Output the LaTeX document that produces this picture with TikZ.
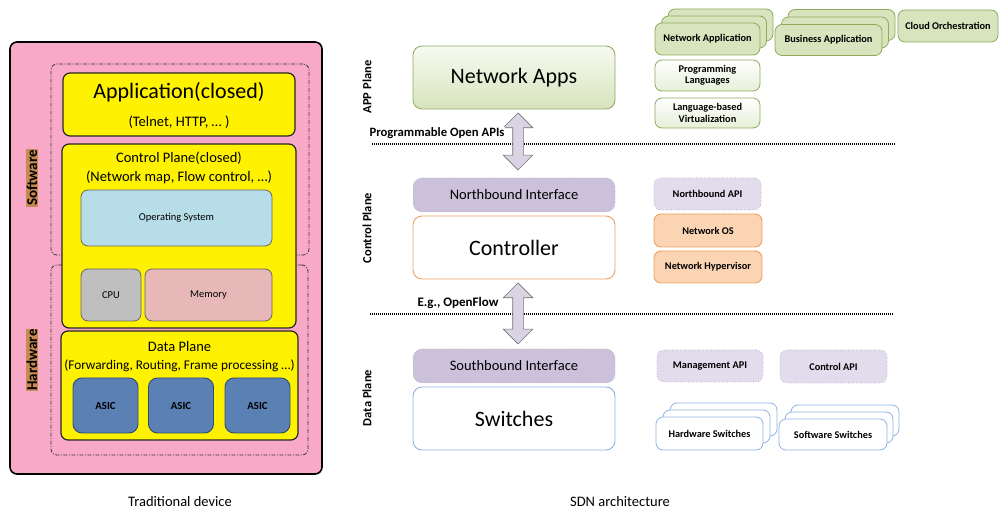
\documentclass[tikz,border=0pt]{standalone}
\usepackage{fontspec}
\setmainfont{Carlito}
\usetikzlibrary{shapes.arrows}
\definecolor{pinkbg}{HTML}{F9A9C8}
\definecolor{yel}{HTML}{FFF200}
\definecolor{osblue}{HTML}{B7DEE8}
\definecolor{cpugray}{HTML}{BFBFBF}
\definecolor{memrose}{HTML}{E6B9B8}
\definecolor{asicblue}{HTML}{5A80B4}
\definecolor{asicedge}{HTML}{2E4B73}
\definecolor{grfill}{HTML}{D7E4BD}
\definecolor{gredge}{HTML}{8EAA5C}
\definecolor{purp}{HTML}{CCC1DA}
\definecolor{purplt}{HTML}{E2DCEC}
\definecolor{purpedge}{HTML}{A99BBD}
\definecolor{orfill}{HTML}{FBD4B4}
\definecolor{oredge}{HTML}{F0A060}
\definecolor{swedge}{HTML}{8DB3E2}
\definecolor{lblbrown}{HTML}{C68A52}
\definecolor{arrfill}{HTML}{D9D3E3}
\tikzset{
  rbox/.style={rounded corners=7pt, inner sep=0pt, align=center, font=\fontsize{10.3}{11.5}\selectfont\bfseries},
  yelbox/.style={rbox, draw=black!85, line width=1.2pt, fill=yel},
  dashdotbox/.style={rounded corners=6pt, draw=black!80, line width=0.8pt, dash pattern=on 4pt off 1.5pt on 1pt off 1.5pt},
  inner/.style={rbox, draw=black!60, line width=0.8pt, font=\fontsize{10.5}{12}\selectfont},
  greenbox/.style={rbox, draw=gredge, line width=0.8pt, fill=grfill},
  greenwhite/.style={rbox, draw=gredge, line width=0.8pt, top color=white, bottom color=grfill!60},
  apibox/.style={rbox, draw=purpedge, line width=0.6pt, dotted, fill=purplt},
  orbox/.style={rbox, draw=oredge, line width=0.9pt, fill=orfill},
  swbox/.style={rbox, draw=swedge, line width=0.8pt, fill=white},
  bigbox/.style={rounded corners=9pt, inner sep=0pt, align=center, font=\fontsize{22}{26}\selectfont},
  iface/.style={rounded corners=9pt, inner sep=0pt, fill=purp, draw=purp!80!black, dotted, line width=0.5pt, font=\fontsize{14.5}{16}\selectfont},
  planelbl/.style={rotate=90, font=\fontsize{12.5}{14}\selectfont\bfseries},
  sidelbl/.style={rotate=90, fill=lblbrown, inner sep=0.6pt, font=\fontsize{15}{16}\selectfont\bfseries},
  asicbox/.style={rbox, draw=asicedge, line width=0.9pt, fill=asicblue, rounded corners=9pt, minimum width=65pt, minimum height=55pt, font=\fontsize{10.8}{12}\selectfont\bfseries},
  fatarrow/.style={double arrow, draw=black!55, fill=arrfill, line width=0.7pt, rotate=90, inner sep=5pt, double arrow head extend=9.5pt},
  dotline/.style={line width=1.4pt, dash pattern=on 1.1pt off 0.9pt},
  midtxt/.style={font=\fontsize{14.5}{16}\selectfont},
  caption/.style={font=\fontsize{14.5}{16}\selectfont}
}
\begin{document}
\begin{tikzpicture}[x=1pt,y=-1pt]
\useasboundingbox (0,0) rectangle (1002,510);
% ---------- Traditional device ----------
\node[draw=black, line width=1.6pt, fill=pinkbg, rounded corners=7pt, minimum width=312pt, minimum height=432pt, inner sep=0pt] (dev) at (166,258) {};
\node[dashdotbox, minimum width=258pt, minimum height=191pt] (swzone) at (180,159.5) {};
\node[dashdotbox, minimum width=257pt, minimum height=190pt] (hwzone) at (179.5,360) {};
\node[yelbox, minimum width=232pt, minimum height=63pt] (app) at (179,104.5) {};
\node[font=\fontsize{22}{26}\selectfont] (apptxt) at (179,92) {Application(closed)};
\node[midtxt] (appsub) at (179,122.5) {(Telnet, HTTP, \dots\ )};
\node[yelbox, minimum width=234pt, minimum height=184pt] (cp) at (179,236) {};
\node[midtxt] (cptxt) at (179,158) {Control Plane(closed)};
\node[midtxt] (cpsub) at (179,177) {(Network map, Flow control, \dots)};
\node[inner, fill=osblue, minimum width=191pt, minimum height=56pt] (os) at (176.5,218) {Operating System};
\node[inner, fill=cpugray, minimum width=60pt, minimum height=52pt] (cpu) at (111,295) {CPU};
\node[inner, fill=memrose, minimum width=127pt, minimum height=52pt] (mem) at (208.5,295) {Memory};
\node[yelbox, minimum width=237pt, minimum height=109pt] (dp) at (179.5,385.5) {};
\node[midtxt] (dptxt) at (179.5,347) {Data Plane};
\node[font=\fontsize{13.3}{15}\selectfont] (dpsub) at (179.5,366) {(Forwarding, Routing, Frame processing \dots)};
\node[asicbox] (asic1) at (105.5,405.5) {ASIC};
\node[asicbox] (asic2) at (181,405.5) {ASIC};
\node[asicbox] (asic3) at (257.5,405.5) {ASIC};
\node[sidelbl] (swlbl) at (32,178) {Software};
\node[sidelbl] (hwlbl) at (32,360) {Hardware};
\node[caption] (cap1) at (180,502) {Traditional device};
% ---------- SDN architecture ----------
\node[planelbl] (applane) at (367,87) {APP Plane};
\node[planelbl] (ctlplane) at (367,228) {Control Plane};
\node[planelbl] (dataplane) at (367,398) {Data Plane};
\node[bigbox, draw=gredge, line width=0.8pt, top color=white!80!grfill, bottom color=grfill, minimum width=202pt, minimum height=63pt] (apps) at (514,77.5) {Network Apps};
\node[iface, minimum width=202pt, minimum height=34pt] (nbi) at (514,195) {Northbound Interface};
\node[bigbox, draw=oredge, line width=0.9pt, fill=white, minimum width=202pt, minimum height=63pt] (ctrl) at (514,247.5) {Controller};
\node[iface, minimum width=202pt, minimum height=34pt] (sbi) at (514,366) {Southbound Interface};
\node[bigbox, draw=swedge, line width=0.9pt, fill=white, minimum width=202pt, minimum height=63pt] (switches) at (514,418.5) {Switches};
\coordinate (l1a) at (372,144);
\coordinate (l1b) at (895,144);
\coordinate (l2a) at (370,314);
\coordinate (l2b) at (893,314);
\draw[dotline] (l1a) -- (l1b);
\draw[dotline] (l2a) -- (l2b);
\node[fatarrow, minimum height=57pt] (arr1) at (518,141.5) {};
\node[fatarrow, minimum height=61pt] (arr2) at (518,313.5) {};
\node[font=\fontsize{12.7}{14}\selectfont\bfseries, fill=white, inner sep=0.5pt] (poa) at (437,133) {Programmable Open APIs};
\node[font=\fontsize{13}{14}\selectfont\bfseries, fill=white, inner sep=0.5pt] (eg) at (458,303) {E.g., OpenFlow};
% right column
\node[greenbox, minimum width=105pt, minimum height=32pt] (na3) at (720.5,25) {};
\node[greenbox, minimum width=105pt, minimum height=32pt] (na2) at (714,32) {};
\node[greenbox, minimum width=105pt, minimum height=32pt] (na1) at (707.5,39) {Network Application};
\node[greenbox, minimum width=107pt, minimum height=31pt] (ba3) at (841.5,25) {};
\node[greenbox, minimum width=107pt, minimum height=31pt] (ba2) at (835,32.5) {};
\node[greenbox, minimum width=107pt, minimum height=31pt] (ba1) at (828.5,40) {Business Application};
\node[greenbox, minimum width=100pt, minimum height=32pt] (cloud) at (948,26) {Cloud Orchestration};
\node[greenwhite, minimum width=105pt, minimum height=31pt] (plang) at (707.5,75.5) {Programming\\Languages};
\node[greenwhite, minimum width=105pt, minimum height=30pt] (lvirt) at (707.5,113) {Language-based\\Virtualization};
\node[apibox, minimum width=107pt, minimum height=32pt] (nbapi) at (707.5,194) {Northbound API};
\node[orbox, minimum width=108pt, minimum height=33pt] (nos) at (708,230.5) {Network OS};
\node[orbox, minimum width=108pt, minimum height=32pt] (nhyp) at (708,267) {Network Hypervisor};
\node[apibox, minimum width=106pt, minimum height=32pt] (mapi) at (710,366) {Management API};
\node[apibox, minimum width=107pt, minimum height=33pt] (capi) at (833.5,366.5) {Control API};
\node[swbox, minimum width=107pt, minimum height=33pt] (hs3) at (723.5,419.5) {};
\node[swbox, minimum width=107pt, minimum height=33pt] (hs2) at (716.5,426.5) {};
\node[swbox, minimum width=107pt, minimum height=33pt] (hs1) at (709.5,433.5) {Hardware Switches};
\node[swbox, minimum width=108pt, minimum height=31pt] (ss3) at (845,420.5) {};
\node[swbox, minimum width=108pt, minimum height=31pt] (ss2) at (839,427.5) {};
\node[swbox, minimum width=108pt, minimum height=31pt] (ss1) at (833,434.5) {Software Switches};
\node[caption] (cap2) at (620,502) {SDN architecture};
\end{tikzpicture}
\end{document}
